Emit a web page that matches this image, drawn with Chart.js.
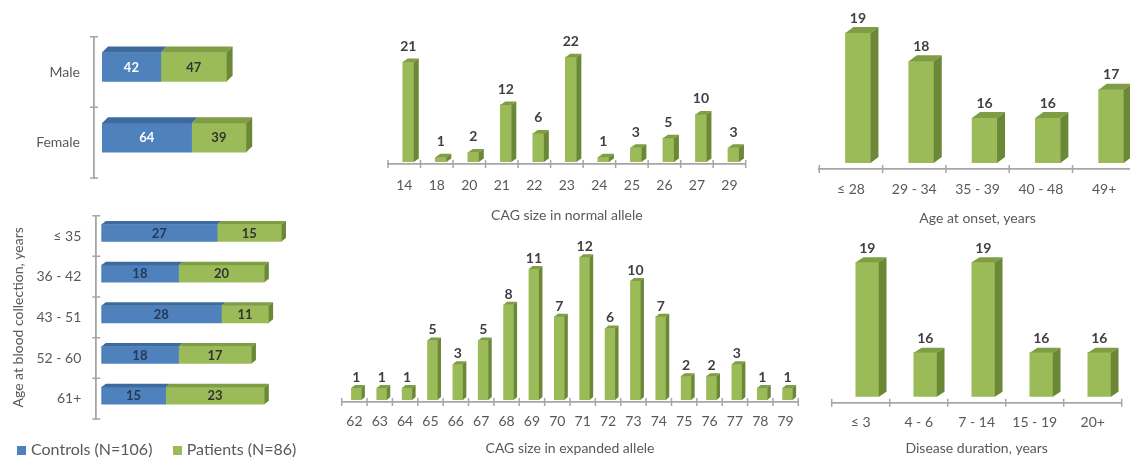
<!DOCTYPE html>
<html>
<head>
<meta charset="utf-8">
<script src="https://cdn.jsdelivr.net/npm/chart.js@4/dist/chart.umd.min.js"></script>
<style>
  html, body { margin: 0; padding: 0; background: #fff; width: 1130px; height: 459px; overflow: hidden; position: relative; font-family: Lato, "Open Sans", sans-serif; }
  canvas { position: absolute; left: 0; top: 0; }
  #legend { position: absolute; left: 0; top: 439px; height: 20px; width: 320px; font-size: 16px; color: #595959; white-space: nowrap; }
  #legend span.item { position: absolute; top: 0; line-height: 20px; }
  #legend i { display: inline-block; width: 9px; height: 9px; margin-right: 5px; vertical-align: 0px; }
</style>
</head>
<body>
<canvas id="sexChart" width="1130" height="459"></canvas>
<canvas id="ageChart" width="1130" height="459"></canvas>
<canvas id="normalChart" width="1130" height="459"></canvas>
<canvas id="expandedChart" width="1130" height="459"></canvas>
<canvas id="onsetChart" width="1140" height="459"></canvas>
<canvas id="durationChart" width="1130" height="459"></canvas>
<div id="legend"></div>
<script>
// ---- data ----
const sexLabels = ['Male', 'Female'];
const sexControls = [42, 64];
const sexPatients = [47, 39];

const ageLabels = ['≤ 35', '36 - 42', '43 - 51', '52 - 60', '61+'];
const ageControls = [27, 18, 28, 18, 15];
const agePatients = [15, 20, 11, 17, 23];

const normalLabels = ['14', '18', '20', '21', '22', '23', '24', '25', '26', '27', '29'];
const normalCounts = [21, 1, 2, 12, 6, 22, 1, 3, 5, 10, 3];

const expandedLabels = ['62', '63', '64', '65', '66', '67', '68', '69', '70', '71', '72', '73', '74', '75', '76', '77', '78', '79'];
const expandedCounts = [1, 1, 1, 5, 3, 5, 8, 11, 7, 12, 6, 10, 7, 2, 2, 3, 1, 1];

const onsetLabels = ['≤ 28', '29 - 34', '35 - 39', '40 - 48', '49+'];
const onsetCounts = [19, 18, 16, 16, 17];

const durationLabels = ['≤ 3', '4 - 6', '7 - 14', '15 - 19', '20+'];
const durationCounts = [19, 16, 19, 16, 16];

const seriesNames = ['Controls (N=106)', 'Patients (N=86)'];

// ---- styling ----
const FONT = 'Lato, "Open Sans", sans-serif';
const BLUE = { front: '#4F81BD', top: '#3E6A9E', side: '#36608F' };
const GREEN = { front: '#9BBB59', top: '#7F9D45', side: '#6A8836' };
const AXIS = '#A6A6A6';
const TEXT = '#595959';
Chart.defaults.font.family = FONT;

// Extruded bars: front faces come from Chart.js, top/side faces and value labels are added here.
const prism = {
  id: 'prism',
  beforeDatasetsDraw(chart, args, o) {
    chart.ctx.save();
    chart.ctx.translate(o.shift[0], o.shift[1]);
  },
  afterDatasetsDraw(chart, args, o) {
    const ctx = chart.ctx;
    const area = chart.chartArea;
    const [dx, dy] = o.depth;
    const horiz = chart.options.indexAxis === 'y';
    const metas = chart.getSortedVisibleDatasetMetas();
    const poly = (pts) => {
      ctx.beginPath();
      ctx.moveTo(pts[0][0], pts[0][1]);
      for (let k = 1; k < pts.length; k++) ctx.lineTo(pts[k][0], pts[k][1]);
      ctx.closePath();
      ctx.fill();
    };
    metas.forEach((meta, di) => {
      const last = di === metas.length - 1;
      const pal = o.palettes[di];
      const values = chart.data.datasets[meta.index].data;
      meta.data.forEach((el, i) => {
        const p = el.getProps(['x', 'y', 'base', 'width', 'height'], true);
        let l, r, t, b;
        if (horiz) {
          l = Math.max(Math.min(p.base, p.x), area.left); r = Math.max(p.base, p.x);
          t = p.y - p.height / 2; b = p.y + p.height / 2;
        } else {
          l = p.x - p.width / 2; r = p.x + p.width / 2;
          t = Math.min(p.y, p.base); b = Math.min(Math.max(p.y, p.base), area.bottom);
        }
        ctx.fillStyle = pal.top;
        poly([[l, t], [l + dx, t - dy], [r + dx, t - dy], [r, t]]);
        if (!horiz || last) {
          ctx.fillStyle = pal.side;
          poly([[r, t], [r + dx, t - dy], [r + dx, b - dy], [r, b]]);
        }
        ctx.font = 'bold ' + o.labelSize + 'px ' + FONT;
        ctx.textAlign = 'center';
        ctx.textBaseline = 'middle';
        ctx.fillStyle = o.labelColors[di];
        if (horiz) {
          ctx.fillText(String(values[i]), (l + r) / 2, (t + b) / 2 + 0.5);
        } else {
          ctx.fillText(String(values[i]), (l + r) / 2, t - dy - o.labelGap);
        }
      });
    });
    ctx.restore();
  },
  afterDraw(chart, args, o) {
    // short marks crossing the category axis at each category boundary
    const ctx = chart.ctx;
    const s = chart.scales[o.tickAxis];
    const n = s.getLabels().length;
    ctx.save();
    ctx.strokeStyle = AXIS;
    ctx.lineWidth = 1.5;
    ctx.beginPath();
    for (let i = 0; i <= n; i++) {
      const v = s.getPixelForValue(i - 0.5);
      if (s.isHorizontal()) {
        const y0 = chart.chartArea.bottom;
        ctx.moveTo(v, y0 - 4); ctx.lineTo(v, y0 + 4);
      } else {
        const x0 = chart.chartArea.left;
        ctx.moveTo(x0 - 4, v); ctx.lineTo(x0 + 4, v);
      }
    }
    ctx.stroke();
    ctx.restore();
  }
};

const baseOptions = {
  responsive: false,
  animation: false,
  events: [],
  maintainAspectRatio: false
};

function stackedHorizontal(id, labels, controls, patients, box, extra) {
  const canvas = document.getElementById(id);
  return new Chart(canvas, {
    type: 'bar',
    data: {
      labels: labels,
      datasets: [
        { label: seriesNames[0], data: controls, backgroundColor: BLUE.front, borderWidth: 0, barThickness: extra.thickness },
        { label: seriesNames[1], data: patients, backgroundColor: GREEN.front, borderWidth: 0, barThickness: extra.thickness }
      ]
    },
    options: Object.assign({}, baseOptions, {
      indexAxis: 'y',
      layout: { padding: { left: 0, top: box.top, right: canvas.width - box.right, bottom: canvas.height - box.bottom } },
      plugins: {
        legend: { display: false },
        tooltip: { enabled: false },
        prism: { shift: extra.shift, depth: extra.depth, palettes: [BLUE, GREEN], labelColors: extra.labelColors, labelSize: 13, tickAxis: 'y' }
      },
      scales: {
        x: { stacked: true, display: false, min: 0, max: extra.max },
        y: {
          stacked: true,
          position: 'left',
          afterFit: (s) => { s.width = box.left; },
          grid: { display: false, drawTicks: false },
          border: { display: true, color: AXIS, width: 1.8 },
          ticks: { padding: extra.tickPad, color: TEXT, font: { size: 14 } },
          title: extra.title ? { display: true, text: extra.title, color: TEXT, font: { size: 14 }, padding: { top: 10, bottom: 0 } } : { display: false }
        }
      }
    }),
    plugins: [prism]
  });
}

function columns(id, labels, values, box, extra) {
  const canvas = document.getElementById(id);
  return new Chart(canvas, {
    type: 'bar',
    data: {
      labels: labels,
      datasets: [
        { label: seriesNames[1], data: values, backgroundColor: GREEN.front, borderWidth: 0, barThickness: extra.thickness }
      ]
    },
    options: Object.assign({}, baseOptions, {
      layout: { padding: { left: box.left, top: box.top, right: canvas.width - box.right, bottom: extra.padBottom } },
      plugins: {
        legend: { display: false },
        tooltip: { enabled: false },
        prism: { shift: extra.shift, depth: extra.depth, palettes: [GREEN], labelColors: ['#404040'], labelSize: extra.labelSize, labelGap: extra.labelGap, tickAxis: 'x' }
      },
      scales: {
        x: {
          afterFit: (s) => { s.height = canvas.height - extra.padBottom - box.bottom; },
          grid: { display: false, drawTicks: false },
          border: { display: true, color: AXIS, width: 1.8 },
          ticks: { padding: extra.tickPad, color: TEXT, font: { size: 14 }, maxRotation: 0, autoSkip: false },
          title: { display: true, text: extra.title, color: TEXT, font: { size: 14 }, padding: { top: 0, bottom: 0 } }
        },
        y: { display: false, min: extra.min, max: extra.max }
      }
    }),
    plugins: [prism]
  });
}

stackedHorizontal('sexChart', sexLabels, sexControls, sexPatients,
  { left: 94, top: 36.7, right: 262, bottom: 178 },
  { thickness: 29, shift: [8, -5], depth: [6, 6], max: 120, tickPad: 14, labelColors: ['#FFFFFF', '#333333'] });

stackedHorizontal('ageChart', ageLabels, ageControls, agePatients,
  { left: 96.3, top: 215.7, right: 310.8, bottom: 419 },
  { thickness: 17, shift: [5, -3], depth: [4.5, 3.5], max: 50, tickPad: 15, labelColors: ['#243A56', '#333333'], title: 'Age at blood collection, years' });

columns('normalChart', normalLabels, normalCounts,
  { left: 388, top: 45, right: 745.7, bottom: 164 },
  { thickness: 11, shift: [4, -2], depth: [5, 3.5], min: 0, max: 25, padBottom: 235.6, tickPad: 13.3, labelSize: 14, labelGap: 12, title: 'CAG size in normal allele' });

columns('expandedChart', expandedLabels, expandedCounts,
  { left: 341.7, top: 235.4, right: 798.3, bottom: 402 },
  { thickness: 10, shift: [2, -2], depth: [3.5, 3], min: 0, max: 14, padBottom: 2.3, tickPad: 11.3, labelSize: 14, labelGap: 7.7, title: 'CAG size in expanded allele' });

columns('onsetChart', onsetLabels, onsetCounts,
  { left: 819.3, top: 22, right: 1135.8, bottom: 169 },
  { thickness: 25, shift: [7, -6], depth: [8, 6], min: 14.41, max: 19.6, padBottom: 232.3, tickPad: 11.9, labelSize: 14, labelGap: 8.7, title: 'Age at onset, years' });

columns('durationChart', durationLabels, durationCounts,
  { left: 831.7, top: 250.2, right: 1121.7, bottom: 402.7 },
  { thickness: 23, shift: [6.6, -6], depth: [7.7, 5], min: 14.54, max: 19.6, padBottom: 2.3, tickPad: 11.6, labelSize: 14, labelGap: 9, title: 'Disease duration, years' });

// legend under the left panels
const legend = document.getElementById('legend');
[[BLUE.front, seriesNames[0], 17], [GREEN.front, seriesNames[1], 172.7]].forEach(([color, text, x]) => {
  const item = document.createElement('span');
  item.className = 'item';
  item.style.left = x + 'px';
  const sw = document.createElement('i');
  sw.style.background = color;
  item.appendChild(sw);
  item.appendChild(document.createTextNode(text));
  legend.appendChild(item);
});
</script>
</body>
</html>
